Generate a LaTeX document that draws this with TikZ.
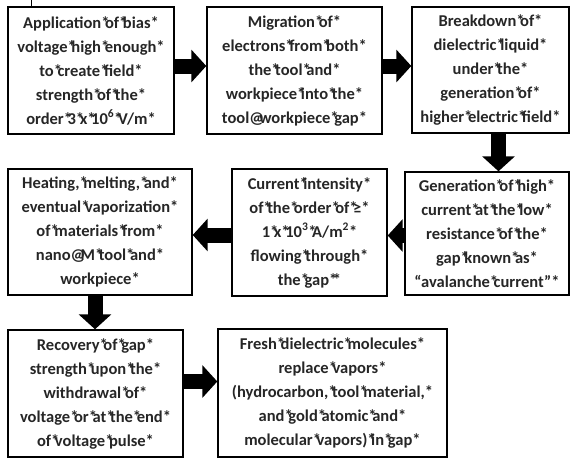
\documentclass[tikz,border=0pt]{standalone}
\usepackage{fontspec}
\setmainfont{Carlito}
\usetikzlibrary{arrows.meta}
\newcommand{\Sx}{\makebox[0.23em][l]{*}}
\newcommand{\At}{\makebox[0.6em][l]{@}}
\begin{document}
\begin{tikzpicture}[x=1pt,y=-1pt,
  box/.style={draw=black, line width=1.4pt, fill=white, align=center, inner sep=0pt,
    font=\fontsize{16.5}{24}\selectfont\bfseries, text=black!85},
  blockarrow/.style={draw=black, line width=15pt, -{Triangle[length=15pt 0 1, width=32pt 0 1]}}]
\useasboundingbox (0,0) rectangle (571,459);
\draw[line width=0.6pt] (31,0) -- (31,7);
\node[box, minimum width=166pt, minimum height=127pt] (b1) at (91,70.5)
  {Application\Sx of\Sx bias*\\voltage\Sx high\Sx enough*\\to\Sx create\Sx field*\\strength\Sx of\Sx the*\\order\Sx 3\Sx x\Sx 10\textsuperscript{6}\Sx V/m*};
\node[box, minimum width=175pt, minimum height=127pt] (b2) at (294.5,70.5)
  {Migration\Sx of*\\electrons\Sx from\Sx both*\\the\Sx tool\Sx and*\\workpiece\Sx into\Sx the*\\tool\At workpiece\Sx gap*};
\node[box, minimum width=157pt, minimum height=126pt] (b3) at (490.5,70)
  {Breakdown\Sx of*\\dielectric\Sx liquid*\\under\Sx the*\\generation\Sx of*\\higher\Sx electric\Sx field*};
\node[box, minimum width=184pt, minimum height=126pt] (b4) at (100,232)
  {Heating,\Sx melting,\Sx and*\\eventual\Sx vaporization*\\of\Sx materials\Sx from*\\nano\At M\Sx tool\Sx and*\\workpiece*};
\node[box, minimum width=155pt, minimum height=127pt] (b5) at (309.5,232.5)
  {Current\Sx intensity*\\of\Sx the\Sx order\Sx of\Sx ≥*\\1\Sx x\Sx 10\textsuperscript{3}\Sx A/m\textsuperscript{2}*\\flowing\Sx through*\\the\Sx gap\Sx *};
\node[box, minimum width=164pt, minimum height=123pt] (b6) at (487,233.5)
  {Generation\Sx of\Sx high*\\current\Sx at\Sx the\Sx low*\\resistance\Sx of\Sx the*\\gap\Sx known\Sx as*\\“avalanche\Sx current”*};
\node[box, minimum width=175pt, minimum height=127pt] (b7) at (95.5,393.5)
  {Recovery\Sx of\Sx gap*\\strength\Sx upon\Sx the*\\withdrawal\Sx of*\\voltage\Sx or\Sx at\Sx the\Sx end*\\of\Sx voltage\Sx pulse*};
\node[box, minimum width=229pt, minimum height=128pt] (b8) at (332.5,393)
  {Fresh\Sx dielectric\Sx molecules*\\replace\Sx vapors*\\(hydrocarbon,\Sx tool\Sx material,*\\and\Sx gold\Sx atomic\Sx and*\\molecular\Sx vapors)\Sx in\Sx gap*};
\coordinate (a1) at ([yshift=4.5pt]b1.east);
\coordinate (a2) at ([yshift=4.5pt]b2.east);
\coordinate (a3) at ([xshift=8pt]b3.south);
\coordinate (a4) at ([yshift=-2pt]b6.west);
\coordinate (a5) at ([yshift=-2.5pt]b5.west);
\coordinate (a6) at ([xshift=-5pt]b4.south);
\coordinate (a7) at ([yshift=12pt]b7.east);
\draw[blockarrow] (a1) -- (b2.west |- a1);
\draw[blockarrow] (a2) -- (b3.west |- a2);
\draw[blockarrow] (a3) -- (b6.north -| a3);
\draw[blockarrow] (a4) -- (b5.east |- a4);
\draw[blockarrow] (a5) -- (b4.east |- a5);
\draw[blockarrow] (a6) -- (b7.north -| a6);
\draw[blockarrow] (a7) -- (b8.west |- a7);
\end{tikzpicture}
\end{document}
